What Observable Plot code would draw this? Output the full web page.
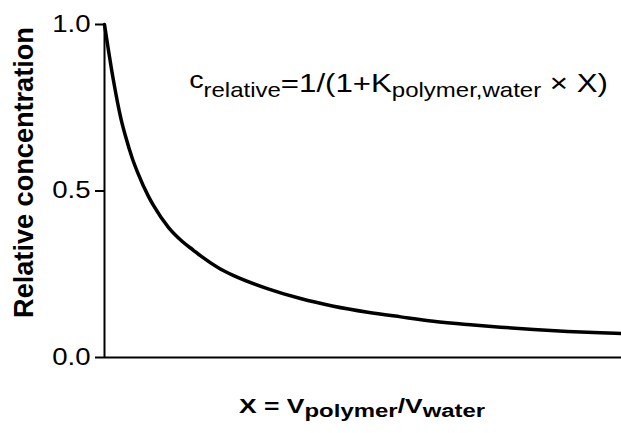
<!DOCTYPE html>
<html><head><meta charset="utf-8">
<script src="https://cdn.jsdelivr.net/npm/d3@7"></script>
<script src="https://cdn.jsdelivr.net/npm/@observablehq/plot@0.6"></script>
<style>html,body{margin:0;padding:0;background:#fff}</style>
</head><body><div id="chart"></div>
<script>
// Data (X in relative units of the plotted range)
const xValues = [0, 0.017, 0.032, 0.040, 0.054, 0.064, 0.085, 0.095, 0.124, 0.150, 0.172, 0.186, 0.224, 0.250, 0.315, 0.379, 0.443, 0.509, 0.573, 0.636, 0.702, 0.766, 0.830, 0.896, 0.959, 1.0];
const cValues = [1.0, 0.835, 0.716, 0.668, 0.597, 0.556, 0.484, 0.456, 0.390, 0.349, 0.322, 0.305, 0.266, 0.246, 0.207, 0.177, 0.154, 0.136, 0.122, 0.109, 0.099, 0.091, 0.084, 0.078, 0.074, 0.072];
const yTicks = [0, 0.5, 1.0];
const yTitle = "Relative concentration";
const xTitleParts = [["X = V", "main"], ["polymer", "sub"], ["/V", "main"], ["water", "sub"]];
const annParts = [["c", "c"], ["relative", "sub"], ["=1/(1+K", "main"], ["polymer,water", "sub"], [" \u00d7 X)", "main"]];

const data = xValues.map((x, i) => ({x, c: cValues[i]}));
const FONT = "'Liberation Sans', Arial, Helvetica, sans-serif";

const plot = Plot.plot({
  width: 621, height: 433,
  marginLeft: 104, marginRight: 0, marginTop: 24, marginBottom: 76,
  style: {fontFamily: FONT, fontSize: "23px", color: "#000", background: "#fff"},
  x: {domain: [0, 1], axis: null},
  y: {domain: [0, 1]},
  marks: [
    Plot.axisY({ticks: yTicks, tickFormat: d3.format(".1f"), tickSize: 9, tickPadding: 5, label: null, strokeWidth: 2}),
    Plot.ruleX([0], {stroke: "#000", strokeWidth: 2}),
    Plot.ruleY([0], {stroke: "#000", strokeWidth: 2}),
    Plot.line(data, {x: "x", y: "c", stroke: "#000", strokeWidth: 3.5, curve: "monotone-x"})
  ]
});
document.getElementById("chart").append(plot);

const svg = d3.select(plot);

// widen tick labels like the reference
svg.selectAll('g[aria-label="y-axis tick label"] text').each(function () {
  const t = this.getAttribute("transform") || "";
  this.setAttribute("transform", t + " scale(1.2,1)");
});

function buildText(parts, sizes, shifts, weight) {
  const t = svg.append("text").attr("font-family", FONT).attr("font-weight", weight).attr("fill", "#000").attr("x", 0).attr("y", 0);
  let cur = 0;
  parts.forEach(([s, kind]) => {
    const target = shifts[kind];
    t.append("tspan").attr("font-size", sizes[kind]).attr("dy", target - cur).text(s);
    cur = target;
  });
  return t;
}
function fitH(t, left, right, baseline) {
  const b = t.node().getBBox();
  const s = (right - left) / b.width;
  t.attr("transform", `translate(${left - b.x * s},${baseline}) scale(${s},1)`);
}

// annotation
const ann = buildText(annParts, {c: 24, sub: 20, main: 26}, {c: -4, sub: 5, main: 0}, "normal");
fitH(ann, 189, 608, 92);

// x title
const xt = buildText(xTitleParts, {main: 21, sub: 19}, {main: 0, sub: 4}, "bold");
fitH(xt, 239, 486, 413);

// y title (rotated)
const yt = svg.append("text").attr("font-family", FONT).attr("font-weight", "bold").attr("font-size", 27).attr("fill", "#000").attr("x", 0).attr("y", 0).text(yTitle);
{
  const b = yt.node().getBBox();
  const s = 291 / b.width;
  yt.attr("transform", `translate(33,${318 + b.x * s}) rotate(-90) scale(${s},1)`);
}
</script>
</body></html>
